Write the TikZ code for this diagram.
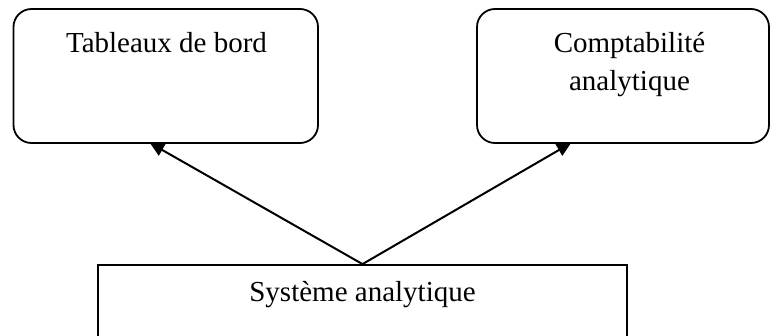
\documentclass[tikz,border=0pt]{standalone}
\usepackage{fontspec}
\setmainfont{Liberation Serif}
\usetikzlibrary{arrows.meta}
\begin{document}
\begin{tikzpicture}[x=1pt,y=-1pt,
  roundbox/.style={draw=black,line width=1.8pt,rounded corners=18pt,inner sep=0pt},
  plainbox/.style={draw=black,line width=1.8pt,inner sep=0pt},
  lbl/.style={inner sep=0pt,anchor=base,font=\fontsize{29}{37}\selectfont,align=center},
  conn/.style={line width=2pt,-{Triangle[length=14pt,width=13pt]}}]
\useasboundingbox (0,0) rectangle (770,335);
\clip (0,0) rectangle (770,335);
\node[roundbox,minimum width=304.5pt,minimum height=134pt] (tb) at (165.75,76) {};
\node[roundbox,minimum width=292pt,minimum height=134pt] (ca) at (623,76) {};
\node[plainbox,minimum width=529pt,minimum height=120pt] (sys) at (362.5,325) {};
\node[lbl] (tbt) at (166.5,52.5) {Tableaux de bord};
\node[lbl] (cat1) at (629.5,52.5) {Comptabilité};
\node[lbl] (cat2) at (629.5,90) {analytique};
\node[lbl] (syst) at (362.5,301.5) {Système analytique};
\coordinate (tbin) at (150,143);
\coordinate (cain) at (571,143);
\draw[conn] (sys.north) -- (tbin);
\draw[conn] (sys.north) -- (cain);
\end{tikzpicture}
\end{document}
